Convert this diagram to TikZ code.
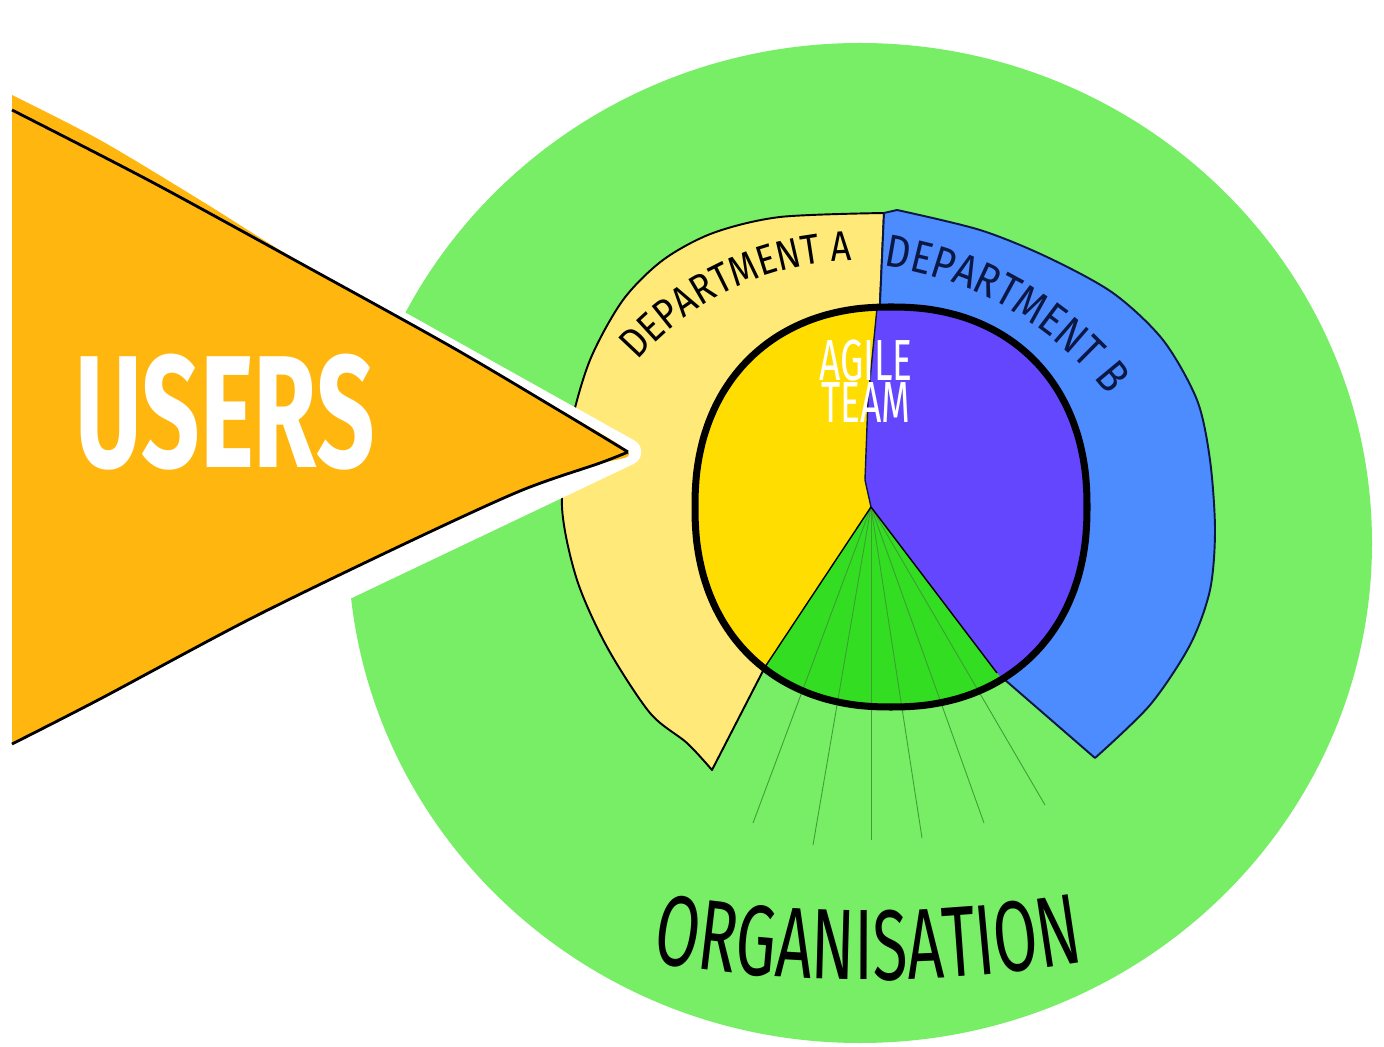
\documentclass[tikz,border=0pt]{standalone}
\usepackage{fontspec}
\usetikzlibrary{decorations.text}

\newfontfamily\handfont[FakeStretch=0.64]{Fira Sans}
\newfontfamily\deptfont[FakeStretch=0.85]{Fira Sans}

\definecolor{orggreen}{HTML}{77EE66}
\definecolor{usersorange}{HTML}{FFB70F}
\definecolor{deptAfill}{HTML}{FFE978}
\definecolor{deptBfill}{HTML}{4C8CFF}
\definecolor{teamyellow}{HTML}{FFDD00}
\definecolor{teampurple}{HTML}{6446FF}
\definecolor{wedgegreen}{HTML}{33DD22}
\definecolor{fangreen}{HTML}{3E9E34}
\definecolor{navy}{HTML}{0B1845}

% squarish circle of the team
\newcommand{\teamshape}{plot[smooth cycle,domain=2.5:357.5,samples=72,variable=\t]
  ({891+196*sign(cos(\t))*abs(cos(\t))^0.9},{507+200*sign(sin(\t))*abs(sin(\t))^0.9})}

\begin{document}
\begin{tikzpicture}[x=0.02cm,y=-0.02cm,line join=round,
  dept line/.style={line width=1.1pt},
  team line/.style={line width=4pt,draw=black},
  fan line/.style={fangreen,line width=0.5pt},
  edge line/.style={line width=0.8pt},
  users text/.style={font=\handfont\bfseries\fontsize{91}{91}\selectfont,
    text=white,inner sep=0pt},
  team text/.style={font=\handfont\fontsize{33}{23}\selectfont,
    text=white,inner sep=0pt,align=center}]

  \useasboundingbox (0,0) rectangle (1384,1047);
  \fill[white] (0,0) rectangle (1384,1047);
  \fill[orggreen] (860,543) ellipse [x radius=512, y radius=500];

  \coordinate (apex) at (871,507);
  \coordinate (wedgeL) at (765,667);
  \coordinate (wedgeR) at (997,673);
  \coordinate (cornerA) at (712,770);
  \coordinate (cornerB) at (1095,758);

  % departments first, the team circle goes on top of them
  \filldraw[fill=deptAfill,draw=black,dept line] plot[smooth] coordinates {(884,213)
    (780,217) (713,233) (663,260) (623,300) (590,360) (570,430) (562,507)
    (577,580) (607,647) (650,713) (687,743) (cornerA)}
    -- (wedgeL) -- (apex) -- (880,303) -- cycle;
  \filldraw[fill=deptBfill,draw=navy,dept line] (884,213) -- plot[smooth]
    coordinates {(897,210) (980,230) (1047,257) (1113,293) (1163,340)
    (1197,400) (1210,460) (1215,530) (1210,590) (1190,645) (1150,705) (cornerB)}
    -- (wedgeR) -- (apex) -- (880,303) -- cycle;

  \begin{scope}
    \clip \teamshape;
    \fill[teamyellow] (680,290) -- (878,290) -- (877,308) -- (868,400) -- (865,480)
      -- (apex) -- (871,720) -- (680,720) -- cycle;
    \fill[teampurple] (878,290) -- (1100,290) -- (1100,720) -- (871,720) -- (apex)
      -- (865,480) -- (868,400) -- (877,308) -- cycle;
    \fill[wedgegreen] (apex) -- (735,712) -- (1030,716) -- cycle;
  \end{scope}

  \foreach \x/\y in {753/823,813/845,871/840,922/838,984/823,1045/805}
    \draw[fan line] (apex) -- (\x,\y);

  \draw[edge line] (wedgeL) -- (apex) -- (wedgeR);
  \draw[edge line,navy] (877,308) -- (868,400) -- (865,480) -- (apex);
  \draw[team line] \teamshape;

  \draw[white,line width=15pt] (12,108) -- (628,452) -- (12,745) -- cycle;
  \fill[usersorange] plot[smooth] coordinates {(12,95) (100,140) (200,200)
    (300,262) (450,345) (560,410) (628,452) (600,464) (520,492) (400,547)
    (250,620) (100,700) (12,745)} -- cycle;
  \draw[black,line width=1.6pt] plot[smooth] coordinates {(12,110) (150,181)
    (300,263) (450,346) (560,411) (628,452)};
  \draw[black,line width=1.6pt] plot[smooth] coordinates {(628,452) (600,463)
    (520,491) (400,546) (250,619) (100,699) (12,744)};

  \node[users text] (users) at (225,412) {USERS};
  \node[team text] (agile) at (866,381) {AGILE\\TEAM};

  \path[decorate,decoration={text along path,text align=center,
    text={|\deptfont\fontsize{24}{24}\selectfont|DEPARTMENT A}}]
    ([shift={(-150:291)}]857,552) arc[start angle=-150,end angle=-80,radius=291];
  \path[decorate,decoration={text along path,text align=center,
    text={|\deptfont\fontsize{26}{26}\selectfont\color{navy}|DEPARTMENT B}}]
    ([shift={(-92:343)}]837,606) arc[start angle=-92,end angle=-28,radius=343];
  \path[decorate,decoration={text along path,text align=center,
    text={|\handfont\fontsize{57}{57}\selectfont|ORGANISATION}}]
    ([shift={(104:1300)}]868,-320) arc[start angle=104,end angle=76,radius=1300];

\end{tikzpicture}
\end{document}
